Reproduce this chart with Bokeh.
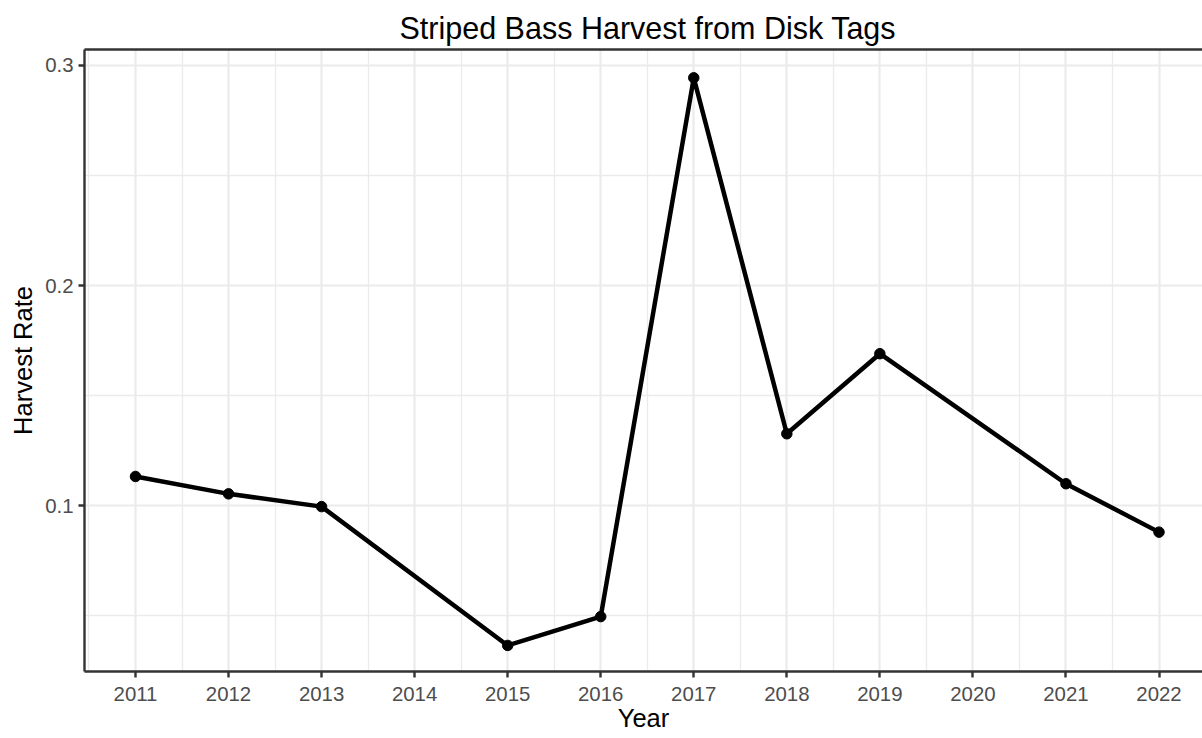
from bokeh.plotting import figure
from bokeh.models import FixedTicker, LinearAxis, Range1d, ColumnDataSource
from bokeh.embed import file_html
from bokeh.resources import INLINE

# ---- data ----
years = [2011, 2012, 2013, 2015, 2016, 2017, 2018, 2019, 2021, 2022]
harvest_rate = [0.1132, 0.1053, 0.0995, 0.0364, 0.0495, 0.2944, 0.1326, 0.1690, 0.1099, 0.0879]

x_ticks = [2011, 2012, 2013, 2014, 2015, 2016, 2017, 2018, 2019, 2020, 2021, 2022]
x_minor = [2010.5, 2011.5, 2012.5, 2013.5, 2014.5, 2015.5, 2016.5, 2017.5, 2018.5,
           2019.5, 2020.5, 2021.5, 2022.5]
y_ticks = [0.1, 0.2, 0.3]
y_minor = [0.05, 0.15, 0.25]

title_text = "Striped Bass Harvest from Disk Tags"
x_label = "Year"
y_label = "Harvest Rate"

FONT = "Liberation Sans"
BORDER = "#333333"
GRID = "#EBEBEB"
TICKLAB = "#4D4D4D"

src = ColumnDataSource(dict(year=years, rate=harvest_rate))

p = figure(
    width=1202, height=738,
    x_range=Range1d(2010.452, 2022.4675),
    y_range=Range1d(0.02455, 0.30727),
    output_backend="svg", toolbar_location=None,
    min_border_left=84, min_border_right=0, min_border_top=49, min_border_bottom=67,
    background_fill_color="white", border_fill_color="white",
)
p.outline_line_color = None

# title
p.title.text = title_text
p.title.text_font = FONT
p.title.text_font_size = "30.5px"
p.title.text_font_style = "normal"
p.title.text_color = "black"
p.title.align = "left"
p.title.offset = 315
p.title.standoff = 9

# axes
for ax in (p.xaxis[0], p.yaxis[0]):
    ax.axis_line_color = BORDER
    ax.axis_line_width = 2.4
    ax.major_tick_line_color = BORDER
    ax.major_tick_line_width = 2.4
    ax.major_tick_out = 6
    ax.major_tick_in = 0
    ax.minor_tick_out = 0
    ax.minor_tick_in = 0
    ax.major_label_text_font = FONT
    ax.major_label_text_font_size = "20.4px"
    ax.major_label_text_color = TICKLAB
    ax.axis_label_text_font = FONT
    ax.axis_label_text_font_size = "25.5px"
    ax.axis_label_text_font_style = "normal"
    ax.axis_label_text_color = "black"

p.xaxis[0].ticker = FixedTicker(ticks=x_ticks, minor_ticks=x_minor)
p.yaxis[0].ticker = FixedTicker(ticks=y_ticks, minor_ticks=y_minor)
p.xaxis[0].axis_label = x_label
p.yaxis[0].axis_label = y_label
p.xaxis[0].major_label_standoff = 9
p.xaxis[0].axis_label_standoff = 0
p.yaxis[0].major_label_standoff = 5
p.yaxis[0].axis_label_standoff = 5
p.yaxis[0].major_label_orientation = "horizontal"

# top border via an empty axis
top = LinearAxis(ticker=FixedTicker(ticks=[]), major_label_text_font_size="0px",
                 major_tick_out=0, major_tick_in=0, minor_tick_out=0, minor_tick_in=0,
                 axis_line_color=BORDER, axis_line_width=2.4)
p.add_layout(top, "above")

# grid
for g in (p.xgrid[0], p.ygrid[0]):
    g.grid_line_color = GRID
    g.grid_line_width = 2.2
    g.minor_grid_line_color = GRID
    g.minor_grid_line_width = 1.3

# data
p.line("year", "rate", source=src, line_color="black", line_width=4.5, line_join="round")
p.scatter("year", "rate", source=src, size=10.5, fill_color="black", line_color="black")

open("out.html", "w").write(file_html(p, INLINE))
